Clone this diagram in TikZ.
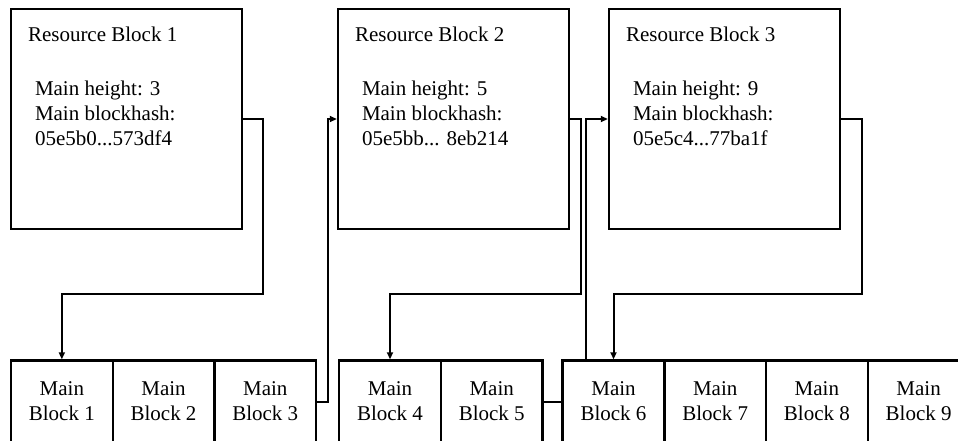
\documentclass[tikz,border=0pt]{standalone}
\usepackage{fontspec}
\setmainfont{Liberation Serif}
\usetikzlibrary{calc,arrows.meta}
\begin{document}
\begin{tikzpicture}[x=1pt,y=-1pt,
  rbox/.style={draw,line width=2.4pt,minimum width=231pt,minimum height=220pt,inner sep=0pt},
  mbox/.style={draw,line width=2.4pt,minimum width=101.7pt,minimum height=82pt,inner sep=0pt,
     align=center,font=\fontsize{21}{25}\selectfont},
  txt/.style={anchor=base west,inner sep=0pt,font=\fontsize{21}{25}\selectfont},
  conn/.style={line width=2pt},
  arr/.style={conn,-{Triangle[length=7pt,width=6pt]}}]
\useasboundingbox (0,0) rectangle (958,440);
\clip (0,0) rectangle (958,440);
% resource blocks
\node[rbox] (rb1) at (126.5,119) {};
\node[rbox] (rb2) at (453.5,119) {};
\node[rbox] (rb3) at (724.5,119) {};
\node[txt] (t1a) at ($(rb1.north west)+(18,34)$) {Resource Block 1};
\node[txt] (t1b) at ($(rb1.north west)+(25,88)$) {Main height: 3};
\node[txt] (t1c) at ($(rb1.north west)+(25,113)$) {Main blockhash:};
\node[txt] (t1d) at ($(rb1.north west)+(25,138)$) {05e5b0...573df4};
\node[txt] (t2a) at ($(rb2.north west)+(18,34)$) {Resource Block 2};
\node[txt] (t2b) at ($(rb2.north west)+(25,88)$) {Main height: 5};
\node[txt] (t2c) at ($(rb2.north west)+(25,113)$) {Main blockhash:};
\node[txt] (t2d) at ($(rb2.north west)+(25,138)$) {05e5bb... 8eb214};
\node[txt] (t3a) at ($(rb3.north west)+(18,34)$) {Resource Block 3};
\node[txt] (t3b) at ($(rb3.north west)+(25,88)$) {Main height: 9};
\node[txt] (t3c) at ($(rb3.north west)+(25,113)$) {Main blockhash:};
\node[txt] (t3d) at ($(rb3.north west)+(25,138)$) {05e5c4...77ba1f};
% main blocks
\node[mbox] (mb1) at (61.85,401.5) {Main\\Block 1};
\node[mbox] (mb2) at (163.55,401.5) {Main\\Block 2};
\node[mbox] (mb3) at (265.25,401.5) {Main\\Block 3};
\node[mbox] (mb4) at (390,401.5) {Main\\Block 4};
\node[mbox] (mb5) at (491.7,401.5) {Main\\Block 5};
\node[mbox] (mb6) at (613.5,401.5) {Main\\Block 6};
\node[mbox] (mb7) at (715.2,401.5) {Main\\Block 7};
\node[mbox] (mb8) at (816.9,401.5) {Main\\Block 8};
\node[mbox] (mb9) at (918.6,401.5) {Main\\Block 9};
% connectors
\draw[arr] (rb1.east) -- ++(20,0) -- ++(0,175) -| (mb1.north);
\draw[arr] (mb3.east) -- ++(11,0) |- (rb2.west);
\draw[arr] (rb2.east) -- ++(11,0) -- ++(0,175) -| (mb4.north);
\draw[conn] (mb5.east) -- (mb6.west);
\coordinate (up6) at ($(mb6.north west)+(25,0)$);
\draw[arr] (up6) |- (rb3.west);
\draw[arr] (rb3.east) -- ++(21,0) -- ++(0,175) -| (mb6.north);
\end{tikzpicture}
\end{document}
